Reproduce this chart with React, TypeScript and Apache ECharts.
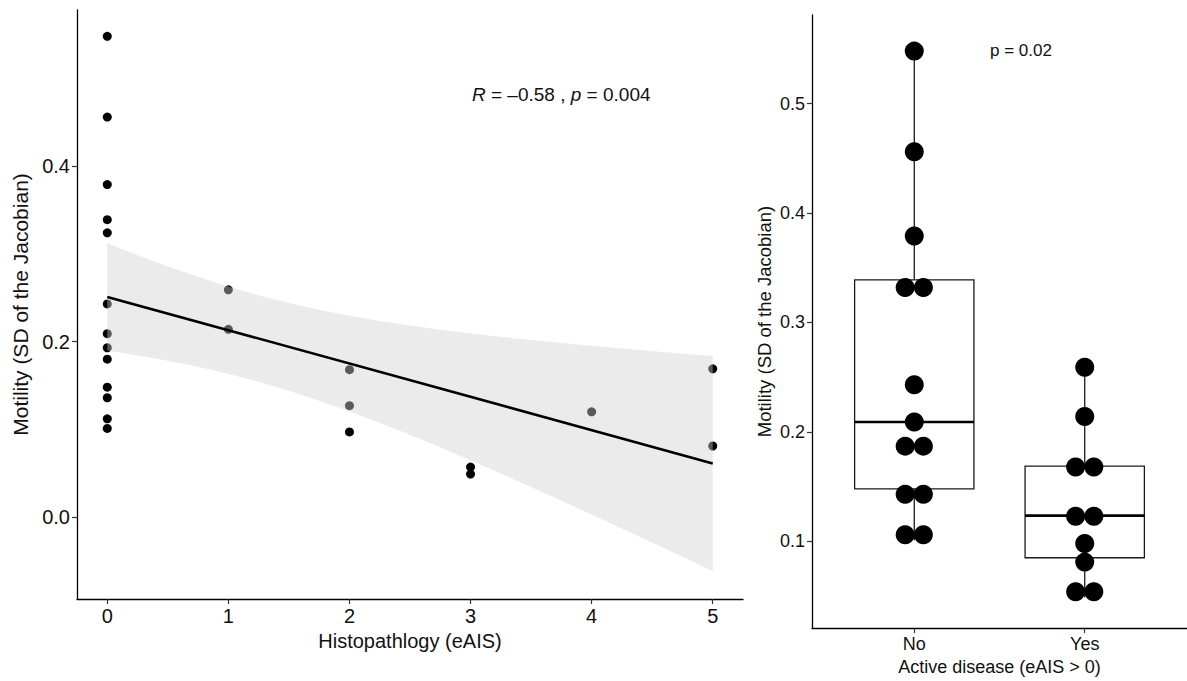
import React, { useEffect, useRef } from "react";
import * as echarts from "echarts";

// ---- data ----
const eAIS = [0, 0, 0, 0, 0, 0, 0, 0, 0, 0, 0, 0, 0, 1, 1, 2, 2, 2, 3, 3, 4, 5, 5];
const motility = [
  0.548, 0.456, 0.379, 0.339, 0.324, 0.243, 0.209, 0.193, 0.18, 0.148, 0.136, 0.112, 0.101,
  0.259, 0.214, 0.168, 0.127, 0.097, 0.057, 0.049, 0.12, 0.169, 0.081,
];
const leftXTicks = [0, 1, 2, 3, 4, 5];
const leftYTicks = [0, 0.2, 0.4];
const rightCategories = ["No", "Yes"];
const rightYTicks = [0.1, 0.2, 0.3, 0.4, 0.5];
// dot-plot bins (centre value, number of stacked dots)
const noBinValues = [0.548, 0.456, 0.379, 0.332, 0.243, 0.209, 0.187, 0.143, 0.106];
const noBinCounts = [1, 1, 1, 2, 1, 1, 2, 2, 2];
const yesBinValues = [0.259, 0.214, 0.168, 0.123, 0.098, 0.081, 0.054];
const yesBinCounts = [1, 1, 2, 2, 1, 1, 2];
const corLabel = { r: "\u20130.58", p: "0.004" };
const groupP = "p = 0.02";

// ---- statistics derived from the data ----
const n = eAIS.length;
const mx = eAIS.reduce((a, b) => a + b, 0) / n;
const my = motility.reduce((a, b) => a + b, 0) / n;
let sxx = 0, sxy = 0;
for (let i = 0; i < n; i++) {
  sxx += (eAIS[i] - mx) ** 2;
  sxy += (eAIS[i] - mx) * (motility[i] - my);
}
const slope = sxy / sxx;
const intercept = my - slope * mx;
let sse = 0;
for (let i = 0; i < n; i++) sse += (motility[i] - (intercept + slope * eAIS[i])) ** 2;
const sRes = Math.sqrt(sse / (n - 2));
const tCrit = 2.0796; // t(0.975, df = 21)
const xMinData = Math.min(...eAIS), xMaxData = Math.max(...eAIS);
const bandX: number[] = [];
for (let k = 0; k < 80; k++) bandX.push(xMinData + ((xMaxData - xMinData) * k) / 79);
const bandLo = bandX.map((x) => intercept + slope * x - tCrit * sRes * Math.sqrt(1 / n + (x - mx) ** 2 / sxx));
const bandHi = bandX.map((x) => intercept + slope * x + tCrit * sRes * Math.sqrt(1 / n + (x - mx) ** 2 / sxx));

function quantile(sorted: number[], p: number) {
  const h = (sorted.length - 1) * p;
  const lo = Math.floor(h);
  const hi = Math.ceil(h);
  return sorted[lo] + (h - lo) * (sorted[hi] - sorted[lo]);
}
function boxStats(vals: number[]) {
  const s = [...vals].sort((a, b) => a - b);
  const q1 = quantile(s, 0.25), med = quantile(s, 0.5), q3 = quantile(s, 0.75);
  const iqr = q3 - q1;
  const lo = Math.min(...s.filter((v) => v >= q1 - 1.5 * iqr));
  const hi = Math.max(...s.filter((v) => v <= q3 + 1.5 * iqr));
  return [lo, q1, med, q3, hi];
}
const noVals = motility.filter((_, i) => eAIS[i] === 0);
const yesVals = motility.filter((_, i) => eAIS[i] > 0);
const boxData = [[1, ...boxStats(noVals)], [2, ...boxStats(yesVals)]];

const dotOffset = 0.0535;
function dotPoints(pos: number, vals: number[], counts: number[]) {
  const out: number[][] = [];
  vals.forEach((v, i) => {
    const c = counts[i];
    for (let j = 0; j < c; j++) out.push([pos + (j - (c - 1) / 2) * 2 * dotOffset, v]);
  });
  return out;
}
const rightDots = [...dotPoints(1, noBinValues, noBinCounts), ...dotPoints(2, yesBinValues, yesBinCounts)];

const FONT = "'Liberation Sans', Arial, Helvetica, sans-serif";
const TXT = "#111";

export default function App() {
  const ref = useRef<HTMLDivElement>(null);
  useEffect(() => {
    if (!ref.current) return;
    const chart = echarts.init(ref.current, undefined, { renderer: "svg" });
    const axisLine = { show: true, onZero: false, lineStyle: { color: "#000", width: 1.3 } };
    const axisTick = (vals: number[]) => ({ show: true, length: 5, lineStyle: { color: "#333", width: 1.2 }, customValues: vals });
    const boxWidth = 0.7;
    chart.setOption({
      animation: false,
      backgroundColor: "#fff",
      textStyle: { fontFamily: FONT },
      grid: [
        { left: 77, top: 10, width: 666, height: 589 },
        { left: 812, top: 15, width: 378, height: 615 },
      ],
      xAxis: [
        {
          type: "value", gridIndex: 0, min: -0.25, max: 5.25,
          axisLine, axisTick: axisTick(leftXTicks), splitLine: { show: false },
          axisLabel: { customValues: leftXTicks, fontSize: 20, color: TXT, margin: 7, fontFamily: FONT },
          name: "Histopathlogy (eAIS)", nameLocation: "middle", nameGap: 30,
          nameTextStyle: { fontSize: 20, color: TXT, fontFamily: FONT },
        },
        {
          type: "value", gridIndex: 1, min: 0.4, max: 2.6,
          axisLine, axisTick: axisTick([1, 2]), splitLine: { show: false },
          axisLabel: {
            customValues: [1, 2], fontSize: 18, color: TXT, margin: 7, fontFamily: FONT,
            formatter: (v: number) => rightCategories[Math.round(v) - 1] ?? "",
          },
          name: "Active disease (eAIS > 0)", nameLocation: "middle", nameGap: 27,
          nameTextStyle: { fontSize: 18, color: TXT, fontFamily: FONT },
        },
      ],
      yAxis: [
        {
          type: "value", gridIndex: 0, min: -0.0934, max: 0.578,
          axisLine, axisTick: axisTick(leftYTicks), splitLine: { show: false },
          axisLabel: { customValues: leftYTicks, fontSize: 20, color: TXT, margin: 7, fontFamily: FONT, formatter: (v: number) => v.toFixed(1) },
          name: "Motility (SD of the Jacobian)", nameLocation: "middle", nameGap: 44,
          nameTextStyle: { fontSize: 21, color: TXT, fontFamily: FONT },
        },
        {
          type: "value", gridIndex: 1, min: 0.0207, max: 0.581,
          axisLine, axisTick: axisTick(rightYTicks), splitLine: { show: false },
          axisLabel: { customValues: rightYTicks, fontSize: 18, color: TXT, margin: 7, fontFamily: FONT, formatter: (v: number) => v.toFixed(1) },
          name: "Motility (SD of the Jacobian)", nameLocation: "middle", nameGap: 38,
          nameTextStyle: { fontSize: 18.5, color: TXT, fontFamily: FONT },
        },
      ],
      series: [
        {
          type: "scatter", xAxisIndex: 0, yAxisIndex: 0, z: 2,
          data: eAIS.map((x, i) => [x, motility[i]]),
          symbolSize: 9, itemStyle: { color: "#000", opacity: 1 },
        },
        {
          type: "custom", xAxisIndex: 0, yAxisIndex: 0, z: 3,
          data: [[0, 0]],
          renderItem: (params: any, api: any) => {
            const pts: number[][] = [];
            bandX.forEach((x, k) => pts.push(api.coord([x, bandHi[k]])));
            for (let k = bandX.length - 1; k >= 0; k--) pts.push(api.coord([bandX[k], bandLo[k]]));
            return { type: "polygon", shape: { points: pts }, style: { fill: "rgba(209,209,209,0.43)", stroke: "none" } };
          },
        },
        {
          type: "line", xAxisIndex: 0, yAxisIndex: 0, z: 4,
          data: [[xMinData, intercept + slope * xMinData], [xMaxData, intercept + slope * xMaxData]],
          symbol: "none", lineStyle: { color: "#000", width: 2.6 },
        },
        {
          type: "custom", xAxisIndex: 1, yAxisIndex: 1, z: 3,
          data: boxData,
          renderItem: (params: any, api: any) => {
            const x = api.value(0);
            const lo = api.value(1), q1 = api.value(2), med = api.value(3), q3 = api.value(4), hi = api.value(5);
            const pl = api.coord([x - boxWidth / 2, q3]);
            const pr = api.coord([x + boxWidth / 2, q1]);
            const c = (v: number) => api.coord([x, v]);
            const pMedL = api.coord([x - boxWidth / 2, med]);
            const pMedR = api.coord([x + boxWidth / 2, med]);
            const ls = { stroke: "#1a1a1a", lineWidth: 1.3 };
            return {
              type: "group",
              children: [
                { type: "line", shape: { x1: c(lo)[0], y1: c(lo)[1], x2: c(q1)[0], y2: c(q1)[1] }, style: ls },
                { type: "line", shape: { x1: c(q3)[0], y1: c(q3)[1], x2: c(hi)[0], y2: c(hi)[1] }, style: ls },
                { type: "rect", shape: { x: pl[0], y: pl[1], width: pr[0] - pl[0], height: pr[1] - pl[1] }, style: { fill: "#fff", stroke: "#1a1a1a", lineWidth: 1.3 } },
                { type: "line", shape: { x1: pMedL[0], y1: pMedL[1], x2: pMedR[0], y2: pMedR[1] }, style: { stroke: "#000", lineWidth: 2.6 } },
              ],
            };
          },
        },
        {
          type: "scatter", xAxisIndex: 1, yAxisIndex: 1, z: 5,
          data: rightDots, symbolSize: 19, itemStyle: { color: "#000", opacity: 1 },
        },
      ],
      graphic: [
        {
          type: "text", left: 472, top: 85, z: 10,
          style: {
            text: "{i|R} = " + corLabel.r + " , {i|p} = " + corLabel.p,
            fontSize: 19, fill: TXT, fontFamily: FONT,
            rich: { i: { fontStyle: "italic", fontSize: 19, fill: TXT, fontFamily: FONT } },
          },
        },
        {
          type: "text", left: 990, top: 42, z: 10,
          style: { text: groupP, fontSize: 17, fill: TXT, fontFamily: FONT },
        },
      ],
    });
    return () => chart.dispose();
  }, []);
  return <div ref={ref} style={{ position: "absolute", left: 0, top: 0, width: 1187, height: 681 }} />;
}
